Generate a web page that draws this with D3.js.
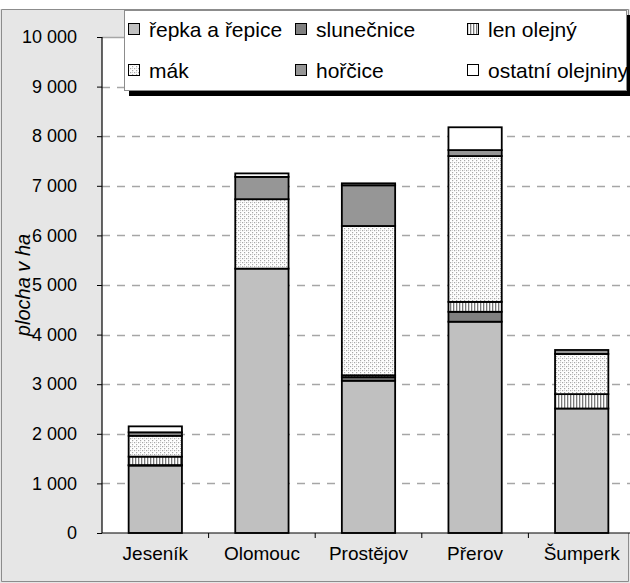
<!DOCTYPE html>
<html>
<head>
<meta charset="utf-8">
<script src="https://cdn.jsdelivr.net/npm/d3@7"></script>
<style>
  body { margin: 0; background: #fff; }
  svg { display: block; }
  text { font-family: "Liberation Sans", Arial, sans-serif; fill: #000; }
</style>
</head>
<body>
<div id="chart"></div>
<script>
// data (ha)
var categories = ["Jeseník", "Olomouc", "Prostějov", "Přerov", "Šumperk"];
var repka      = [1360, 5330, 3070, 4260, 2510];
var slunecnice = [10, 0, 70, 200, 0];
var lenOlejny  = [170, 0, 40, 200, 290];
var mak        = [420, 1400, 3010, 2940, 810];
var horcice    = [70, 450, 820, 120, 80];
var ostatni    = [120, 70, 40, 460, 0];
var seriesNames = ["řepka a řepice", "slunečnice", "len olejný", "mák", "hořčice", "ostatní olejniny"];
var yTicks = [0, 1000, 2000, 3000, 4000, 5000, 6000, 7000, 8000, 9000, 10000];

var W = 630, H = 583;
var plot = { left: 102, top: 37, right: 635, bottom: 533 };

var svg = d3.select("#chart").append("svg")
  .attr("width", W).attr("height", H)
  .style("background", "#e6e6e6");

var defs = svg.append("defs");
// len olejny - vertical stripes
var pLen = defs.append("pattern").attr("id", "pLen")
  .attr("patternUnits", "userSpaceOnUse").attr("width", 3).attr("height", 3);
pLen.append("rect").attr("width", 3).attr("height", 3).attr("fill", "#fff");
pLen.append("rect").attr("x", 0).attr("width", 1.3).attr("height", 3).attr("fill", "#7a7a7a");
// mak - fine dots
var pMak = defs.append("pattern").attr("id", "pMak")
  .attr("patternUnits", "userSpaceOnUse").attr("width", 4).attr("height", 4);
pMak.append("rect").attr("width", 4).attr("height", 4).attr("fill", "#fff");
pMak.append("rect").attr("x", 0).attr("y", 0).attr("width", 1.2).attr("height", 1.2).attr("fill", "#a8a8a8");
pMak.append("rect").attr("x", 2).attr("y", 2).attr("width", 1.2).attr("height", 1.2).attr("fill", "#a8a8a8");
pMak.append("rect").attr("x", 0).attr("y", 2).attr("width", 1).attr("height", 1).attr("fill", "#d0d0d0");

var fills = ["#c0c0c0", "#808080", "url(#pLen)", "url(#pMak)", "#969696", "#ffffff"];

// chart area: white strip above the border, gray frame
svg.append("rect").attr("x", 0).attr("y", 0).attr("width", W).attr("height", 9).attr("fill", "#fff");
svg.append("path")
  .attr("d", "M1.5,9.5H628.5V581.5H1.5Z")
  .attr("fill", "#e6e6e6").attr("stroke", "#8c8c8c").attr("stroke-width", 1);
svg.append("rect").attr("x", plot.left).attr("y", plot.top)
  .attr("width", plot.right - plot.left).attr("height", plot.bottom - plot.top)
  .attr("fill", "#ffffff");

var x = d3.scaleBand().domain(categories).range([plot.left, plot.right]).paddingInner(0).paddingOuter(0);
var y = d3.scaleLinear().domain([0, 10000]).range([plot.bottom, plot.top]);

// gridlines
svg.append("g").selectAll("line").data(yTicks.filter(function(d) { return d > 0; }))
  .enter().append("line")
  .attr("x1", plot.left).attr("x2", plot.right)
  .attr("y1", function(d) { return Math.round(y(d)) + 0.5; })
  .attr("y2", function(d) { return Math.round(y(d)) + 0.5; })
  .attr("stroke", "#a6a6a6").attr("stroke-width", 1.5)
  .attr("stroke-dasharray", function(d) { return d == 10000 ? null : "8,7"; });

// stacked bars
var table = categories.map(function(c, i) {
  return { cat: c, s0: repka[i], s1: slunecnice[i], s2: lenOlejny[i], s3: mak[i], s4: horcice[i], s5: ostatni[i] };
});
var stack = d3.stack().keys(["s0", "s1", "s2", "s3", "s4", "s5"]);
var layers = stack(table);
var bw = x.bandwidth() * 0.5;

svg.append("g").selectAll("g").data(layers).enter().append("g")
  .attr("fill", function(d, i) { return fills[i]; })
  .selectAll("rect").data(function(d) { return d.filter(function(e) { return e[1] > e[0]; }); })
  .enter().append("rect")
  .attr("x", function(d) { return x(d.data.cat) + (x.bandwidth() - bw) / 2; })
  .attr("width", bw)
  .attr("y", function(d) { return y(d[1]); })
  .attr("height", function(d) { return y(d[0]) - y(d[1]); })
  .attr("stroke", "#000").attr("stroke-width", 1.8);

// axes
var yAxis = d3.axisLeft(y).tickValues(yTicks).tickSize(5).tickPadding(20)
  .tickFormat(function(d) { return d3.format(",")(d).replace(/,/g, " "); });
var gy = svg.append("g").attr("transform", "translate(" + plot.left + ",0)").call(yAxis);
gy.select(".domain").attr("stroke", "#000").attr("stroke-width", 1.2).attr("d", "M0," + plot.top + "V" + plot.bottom);
gy.selectAll(".tick line").attr("stroke", "#000");
gy.selectAll("text").attr("font-size", 18).attr("font-family", "Liberation Sans, Arial, sans-serif").attr("fill", "#000");

var xAxis = d3.axisBottom(x).tickSize(0).tickPadding(14);
var gx = svg.append("g").attr("transform", "translate(0," + plot.bottom + ")").call(xAxis);
gx.select(".domain").attr("stroke", "#000").attr("stroke-width", 1.2).attr("d", "M" + plot.left + ",0H" + plot.right);
gx.selectAll("text").attr("font-size", 19).attr("font-family", "Liberation Sans, Arial, sans-serif").attr("fill", "#000");
// category separator ticks
gx.selectAll(".sep").data(categories.slice(1)).enter().append("line")
  .attr("x1", function(d) { return x(d); }).attr("x2", function(d) { return x(d); })
  .attr("y1", 0).attr("y2", 5).attr("stroke", "#000");

svg.append("text")
  .attr("transform", "translate(30," + ((plot.top + plot.bottom) / 2) + ") rotate(-90)")
  .attr("text-anchor", "middle")
  .attr("font-size", 20).attr("font-style", "italic")
  .text("plocha v ha");

// legend
var lg = svg.append("g");
lg.append("rect").attr("x", 129).attr("y", 15).attr("width", 503).attr("height", 81).attr("fill", "#000");
lg.append("rect").attr("x", 124.5).attr("y", 10.5).attr("width", 502).attr("height", 80)
  .attr("fill", "#fff").attr("stroke", "#8c8c8c");
var colX = [128, 295, 467];
var rowY = [29, 70];
var items = lg.selectAll(".item").data(seriesNames).enter().append("g")
  .attr("transform", function(d, i) { return "translate(" + colX[i % 3] + "," + rowY[Math.floor(i / 3)] + ")"; });
items.append("rect").attr("x", 0.5).attr("y", -5.5).attr("width", 11).attr("height", 11)
  .attr("fill", function(d, i) { return fills[i]; }).attr("stroke", "#000");
items.append("text").attr("x", 21).attr("dy", "0.36em").attr("font-size", 21).text(function(d) { return d; });
</script>
</body>
</html>
